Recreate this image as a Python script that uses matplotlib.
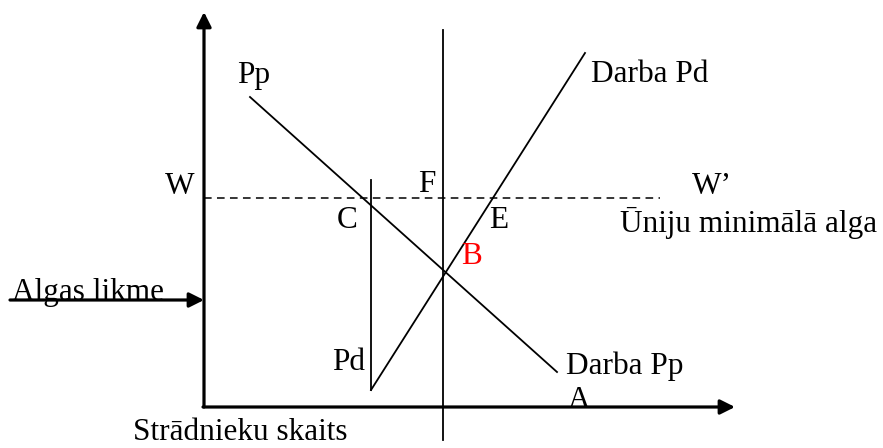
import matplotlib.pyplot as plt

# diagram geometry in pixel coordinates (y grows downward)
axis_origin = (204, 407)
y_axis_tip = (204, 12)
x_axis_tip = (735, 407)

demand_x = [250, 557]      # Darba Pp
demand_y = [97, 372]
supply_x = [371, 585]      # Darba Pd
supply_y = [390, 53]
fixed_x = [443, 443]       # vertical line through B
fixed_y = [30, 440]
short_pd_x = [371, 371]    # Pd line
short_pd_y = [180, 390]
min_wage_x = [204, 660]    # W - W'
min_wage_y = [198, 198]

wage_arrow_start = (10, 300)
wage_arrow_end = (204, 300)

labels = ['Pp', 'Darba Pd', 'W', 'F', 'W\u2019', 'C', 'E', 'Ūniju minimālā alga',
          'Pd', 'Darba Pp', 'A']
label_x = [237, 591, 165, 418, 692, 337, 489, 620, 332, 566, 568]
label_y = [76, 74, 187, 185, 187, 221, 221, 223, 363, 366, 401]

plt.rcParams['font.family'] = ['Liberation Serif', 'DejaVu Serif']

fig = plt.figure(figsize=(8.83, 4.48), dpi=100)
ax = fig.add_axes([0, 0, 1, 1])
ax.set_xlim(0, 883)
ax.set_ylim(448, 0)
ax.axis('off')

# axes with arrows
arrow = dict(arrowstyle='-|>', lw=2.3, color='black', mutation_scale=22,
             shrinkA=0, shrinkB=0)
ax.annotate('', xy=y_axis_tip, xytext=axis_origin, arrowprops=arrow)
ax.annotate('', xy=x_axis_tip, xytext=(axis_origin[0] - 1, axis_origin[1]), arrowprops=arrow)
ax.annotate('', xy=wage_arrow_end, xytext=wage_arrow_start, arrowprops=arrow)

ax.plot(demand_x, demand_y, color='black', lw=1.3)
ax.plot(supply_x, supply_y, color='black', lw=1.3)
ax.plot(fixed_x, fixed_y, color='black', lw=1.3)
ax.plot(short_pd_x, short_pd_y, color='black', lw=1.3)
ax.plot(min_wage_x, min_wage_y, color='black', lw=1.1, dashes=(5, 3.5))

fs = 22.5
for t, x, y in zip(labels, label_x, label_y):
    ax.text(x, y, t, fontsize=fs, ha='left', va='center')

ax.text(461, 257, 'B', fontsize=fs, color='red', ha='left', va='center')
ax.text(12, 300, 'Algas likme', fontsize=fs, ha='left', va='baseline')
ax.text(133, 447.5, 'Strādnieku skaits', fontsize=fs, ha='left', va='bottom')

fig.savefig('out.png', dpi=100)
